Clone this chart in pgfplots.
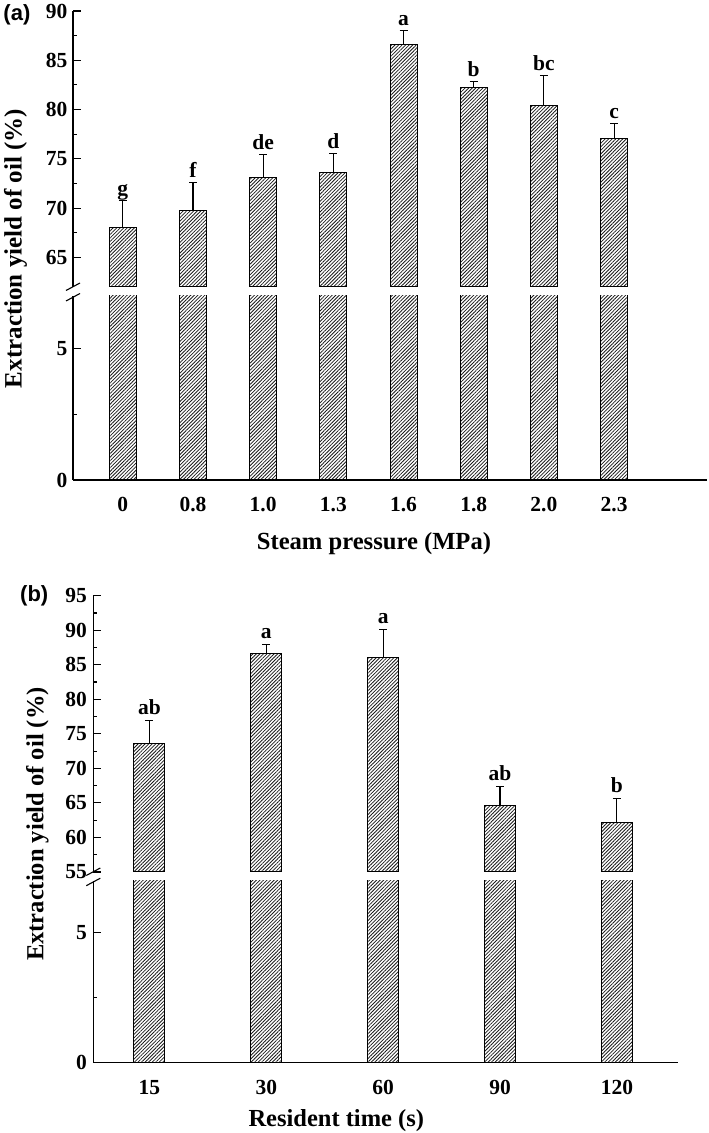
\documentclass[border=0pt]{standalone}
\usepackage{fontspec}
\setmainfont{Liberation Serif}
\newfontfamily\arialfont{Liberation Sans}
\usepackage{pgfplots}
\pgfplotsset{compat=1.18}
\usepackage{pgfplotstable}
\usetikzlibrary{patterns.meta}

\pgfplotstableread{
x val err lab
0 68.0 2.8 g
1 69.8 2.8 f
2 73.1 2.3 de
3 73.6 1.9 d
4 86.6 1.4 a
5 82.25 0.6 b
6 80.4 3.1 bc
7 77.1 1.5 c
}\dataA

\pgfplotstableread{
x val err lab
0 73.6 3.3 ab
1 86.6 1.4 a
2 86.0 4.1 a
3 64.6 2.8 ab
4 62.1 3.5 b
}\dataB

\pgfplotsset{
  common/.style={
    scale only axis,
    anchor=south west,
    clip mode=individual,
    axis line style={line width=1.4bp},
    tick style={line width=1.1bp, black},
    major tick length=8bp, minor tick length=4bp,
    tick align=inside,
    minor y tick num=1,
    /pgf/number format/assume math mode=true,
    tick label style={font=\fontsize{21.5bp}{24bp}\selectfont\bfseries},
  },
  upper/.style={common, axis x line=none, axis y line*=left, xtick=\empty},
  lower/.style={common, axis x line*=bottom, axis y line*=left, xtick style={draw=none},
    xticklabel style={yshift=-14bp}},
  barsty/.style={ybar, bar width=#1, draw=black, line width=1bp,
    pattern={Lines[angle=45,distance=2.5bp,line width=0.8bp]}, pattern color=black!90},
  errsty/.style={error bars/.cd, y dir=plus, y explicit,
    error bar style={line width=1.1bp, black},
    error mark options={rotate=90, mark size=4bp, line width=1.1bp, black}},
  labsty/.style={draw=none, mark=none, nodes near coords, point meta=explicit symbolic,
    every node near coord/.append style={anchor=base, yshift=#1, inner sep=0pt,
      font=\fontsize{21.5bp}{24bp}\selectfont\bfseries}},
}

\begin{document}
\begin{tikzpicture}
% ---------------- panel (a) upper
\begin{axis}[upper, at={(73bp,846bp)}, width=633.7bp, height=276bp,
  xmin=-0.71, xmax=8.32, ymin=62, ymax=90, ytick={65,70,...,90},
  yticklabel style={xshift=-2bp}]
\addplot[barsty=27bp, errsty] table[x=x, y=val, y error=err]{\dataA};
\addplot[labsty=5bp] table[x=x, y expr=\thisrow{val}+\thisrow{err}, meta=lab]{\dataA};
\draw[line width=1.1bp] (rel axis cs:0,0) ++(-7bp,-3.5bp) -- ++(14bp,7.5bp);
\end{axis}
% ---------------- panel (a) lower
\begin{axis}[lower, at={(73bp,653bp)}, width=633.7bp, height=184bp,
  xmin=-0.71, xmax=8.32, ymin=0, ymax=7, ytick={0,5},
  xtick={0,...,7}, xticklabels={0,0.8,1.0,1.3,1.6,1.8,2.0,2.3},
  yticklabel style={xshift=-2bp}]
\addplot[barsty=27bp] table[x=x, y=val]{\dataA};
\draw[line width=1.1bp] (rel axis cs:0,1) ++(-7bp,-5bp) -- ++(14bp,7.5bp);
\end{axis}
% ---------------- panel (b) upper
\begin{axis}[upper, at={(93.3bp,261bp)}, width=584.4bp, height=276.3bp,
  xmin=-0.48, xmax=4.52, ymin=55, ymax=95, ytick={55,60,...,95},
  yticklabel style={xshift=-3bp}]
\addplot[barsty=31bp, errsty] table[x=x, y=val, y error=err]{\dataB};
\addplot[labsty=6bp] table[x=x, y expr=\thisrow{val}+\thisrow{err}, meta=lab]{\dataB};
\draw[line width=1.1bp] (rel axis cs:0,0) ++(-7bp,-3.5bp) -- ++(14bp,7.5bp);
\end{axis}
% ---------------- panel (b) lower
\begin{axis}[lower, at={(93.3bp,70.3bp)}, width=584.4bp, height=182bp,
  xmin=-0.48, xmax=4.52, ymin=0, ymax=7, ytick={0,5},
  xtick={0,...,4}, xticklabels={15,30,60,90,120},
  yticklabel style={xshift=-3bp}]
\addplot[barsty=31bp] table[x=x, y=val]{\dataB};
\draw[line width=1.1bp] (rel axis cs:0,1) ++(-7bp,-5bp) -- ++(14bp,7.5bp);
\end{axis}
% ---------------- texts
\node[rotate=90, anchor=base, inner sep=0pt, font=\fontsize{25bp}{30bp}\selectfont\bfseries]
  at (21.7bp,884.5bp) {Extraction yield of oil (\%)};
\node[rotate=90, anchor=base, inner sep=0pt, font=\fontsize{24.5bp}{30bp}\selectfont\bfseries]
  at (43.3bp,309bp) {Extraction yield of oil (\%)};
\node[anchor=base west, inner sep=0pt, font=\fontsize{24.6bp}{30bp}\selectfont\bfseries]
  at (256.7bp,583bp) {Steam pressure (MPa)};
\node[anchor=base west, inner sep=0pt, font=\fontsize{24.5bp}{30bp}\selectfont\bfseries]
  at (248.3bp,6.3bp) {Resident time (s)};
\node[anchor=base west, inner sep=0pt, font=\arialfont\fontsize{22bp}{26bp}\selectfont\bfseries]
  at (3.3bp,1112.5bp) {(a)};
\node[anchor=base west, inner sep=0pt, font=\arialfont\fontsize{22bp}{26bp}\selectfont\bfseries]
  at (20bp,531.3bp) {(b)};
\pgfresetboundingbox
\useasboundingbox (0,0) rectangle (709bp,1133bp);
\end{tikzpicture}
\end{document}
